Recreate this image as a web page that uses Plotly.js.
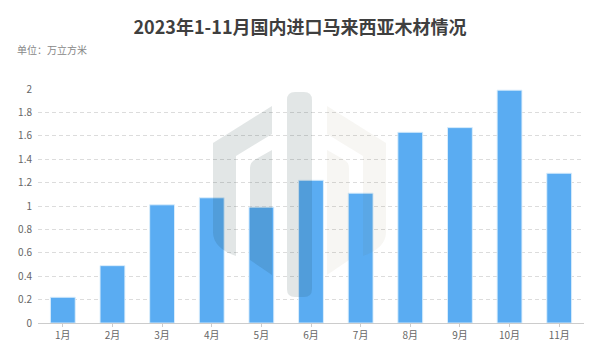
<!DOCTYPE html>
<html>
<head>
<meta charset="utf-8">
<script src="https://cdn.plot.ly/plotly-3.0.1.min.js"></script>
<style>html,body{margin:0;padding:0;background:#fff;}#chart{width:600px;height:361px;}</style>
</head>
<body>
<div id="chart"></div>
<script>
// ---- data ----
const months = ["1月","2月","3月","4月","5月","6月","7月","8月","9月","10月","11月"];
const volumes = [0.22, 0.49, 1.01, 1.07, 0.99, 1.22, 1.11, 1.63, 1.67, 1.99, 1.28];
const yTicks = [0, 0.2, 0.4, 0.6, 0.8, 1, 1.2, 1.4, 1.6, 1.8, 2];
const titleText = "2023年1-11月国内进口马来西亚木材情况";
const unitText = "单位：万立方米";

// ---- geometry of plot area (pixels) ----
const W = 600, H = 361;
const M = {l: 38, r: 16, t: 89, b: 38};
const PW = W - M.l - M.r, PH = H - M.t - M.b;
function px(x){ return (x - M.l) / PW; }
function py(y){ return (H - M.b - y) / PH; }
function pathFrom(cmds){
  return cmds.map(c => {
    const t = c[0];
    const nums = c.slice(1);
    const out = [];
    for (let i = 0; i < nums.length; i += 2) out.push(px(nums[i]).toFixed(4) + "," + py(nums[i+1]).toFixed(4));
    return t + out.join(" ");
  }).join(" ") + " Z";
}
function mirror(cmds){
  return cmds.map(c => { const r=[c[0]]; for(let i=1;i<c.length;i+=2){ r.push(599 - c[i], c[i+1]); } return r; });
}
// background logo (watermark) outlines in pixel space
const outerArm = [["M",272,106],["L",213,143],["L",213,232],["Q",213,248,236,256],["L",236,156],["L",272,134]];
const innerArm = [["M",272,150],["L",256,159],["Q",250,162,250,168],["L",250,260],["L",272,275]];
const pill = [["M",295,92],["L",304,92],["Q",312,92,312,100],["L",312,289],["Q",312,297,304,297],["L",295,297],["Q",287,297,287,289],["L",287,100],["Q",287,92,295,92]];
const darkFill = "rgba(20,50,50,0.12)";
const lightFill = "rgba(90,70,20,0.05)";
const shapes = [
  {p: outerArm, f: darkFill}, {p: innerArm, f: darkFill}, {p: pill, f: darkFill},
  {p: mirror(outerArm), f: lightFill}, {p: mirror(innerArm), f: lightFill}
].map(s => ({type:"path", xref:"paper", yref:"paper", path: pathFrom(s.p), fillcolor: s.f, line:{width:0}, layer:"above"}));

const trace = {
  type: "bar",
  x: months,
  y: volumes,
  marker: {color: "#5aacf2", line: {color: "rgba(220,238,252,0.9)", width: 1}},
  hoverinfo: "x+y"
};

const layout = {
  width: W, height: H,
  margin: M,
  paper_bgcolor: "#ffffff",
  plot_bgcolor: "#ffffff",
  font: {family: "'Noto Sans CJK SC', 'Noto Sans', sans-serif", color: "#666666", size: 10},
  title: {
    text: "<b>" + titleText + "</b>",
    font: {family: "'Noto Sans CJK SC', sans-serif", size: 18, color: "#3f3f3f"},
    x: 0.5, xref: "container", xanchor: "center",
    y: 1 - 28/361, yref: "container", yanchor: "middle"
  },
  bargap: 0.5,
  showlegend: false,
  xaxis: {
    type: "category",
    showline: true, linecolor: "#cccccc", linewidth: 1,
    ticks: "outside", ticklen: 3, tickcolor: "#cccccc",
    showgrid: false,
    tickfont: {size: 10, color: "#666666"},
    fixedrange: true
  },
  yaxis: {
    range: [0, 2],
    tickvals: yTicks,
    showgrid: true, gridcolor: "#dcdcdc", griddash: "4px,3px", gridwidth: 1,
    zeroline: false, showline: false,
    ticks: "", ticklabelstandoff: 5,
    tickfont: {size: 10, color: "#666666"},
    fixedrange: true
  },
  annotations: [{
    text: unitText, xref: "paper", yref: "paper",
    x: px(15), y: py(50), xanchor: "left", yanchor: "middle",
    showarrow: false, font: {size: 10, color: "#888888"}
  }],
  shapes: shapes
};

Plotly.newPlot("chart", [trace], layout, {displayModeBar: false, staticPlot: true});
</script>
</body>
</html>
